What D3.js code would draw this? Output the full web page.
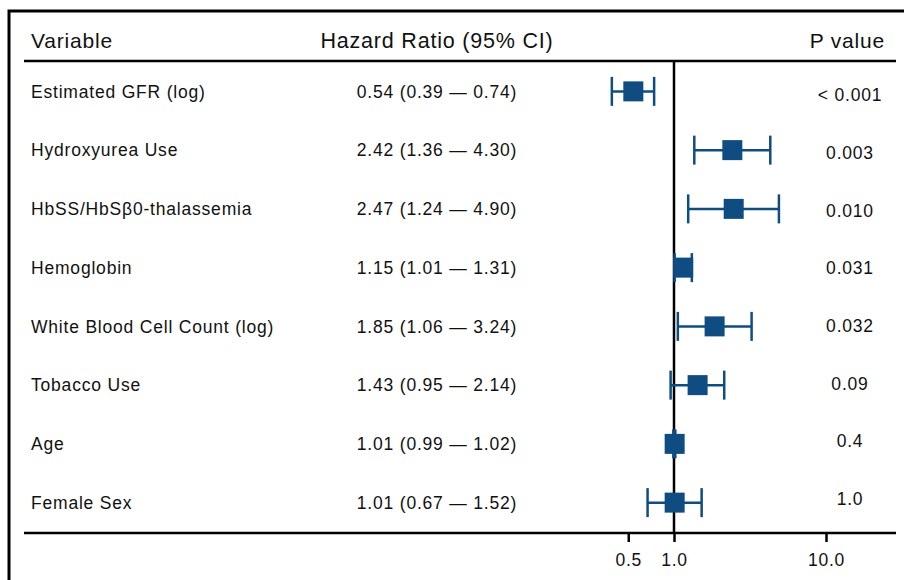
<!DOCTYPE html>
<html>
<head>
<meta charset="utf-8">
<script src="https://cdn.jsdelivr.net/npm/d3@7"></script>
<style>
  body { margin: 0; background: #fff; }
  text { font-family: "Liberation Sans", Arial, sans-serif; fill: #111; letter-spacing: 0.8px; }
</style>
</head>
<body>
<script>
// forest plot data
var variables = ["Estimated GFR (log)", "Hydroxyurea Use", "HbSS/HbS\u03b20-thalassemia",
  "Hemoglobin", "White Blood Cell Count (log)", "Tobacco Use", "Age", "Female Sex"];
var hr = [0.54, 2.42, 2.47, 1.15, 1.85, 1.43, 1.01, 1.01];
var lower = [0.39, 1.36, 1.24, 1.01, 1.06, 0.95, 0.99, 0.67];
var upper = [0.74, 4.30, 4.90, 1.31, 3.24, 2.14, 1.02, 1.52];
var pvals = ["< 0.001", "0.003", "0.010", "0.031", "0.032", "0.09", "0.4", "1.0"];
var tickVals = [0.5, 1, 10];

var W = 904, H = 580;
var blue = "#0f4c81";

var rows = variables.map(function(v, i) {
  return { name: v, hr: hr[i], lo: lower[i], hi: upper[i], p: pvals[i] };
});

var svg = d3.select("body").append("svg")
  .attr("width", W)
  .attr("height", H);

var x = d3.scaleLog().domain([1, 10]).range([674, 826]);
var y = d3.scaleBand().domain(d3.range(rows.length)).range([62, 532]);
// p value column sits on its own, slightly tighter spacing
var py = d3.scalePoint().domain(d3.range(rows.length)).range([95, 499]);

var fmt = d3.format(".2f");

// frame
svg.append("path")
  .attr("d", "M9," + H + "V11H" + W)
  .attr("fill", "none").attr("stroke", "#000").attr("stroke-width", 3);

svg.append("line")
  .attr("x1", 24).attr("x2", 896).attr("y1", 61).attr("y2", 61)
  .attr("stroke", "#000").attr("stroke-width", 2.5);

// headers
svg.append("text").attr("x", 31).attr("y", 48).style("font-size", "21px").text("Variable");
svg.append("text").attr("x", 437).attr("y", 48).attr("text-anchor", "middle")
  .style("font-size", "21.5px").text("Hazard Ratio (95% CI)");
svg.append("text").attr("x", 885).attr("y", 48).attr("text-anchor", "end")
  .style("font-size", "21px").text("P value");

// reference line at 1
svg.append("line")
  .attr("x1", x(1)).attr("x2", x(1)).attr("y1", 61).attr("y2", 533)
  .attr("stroke", "#000").attr("stroke-width", 2.5);

// x axis
var axis = svg.append("g").attr("transform", "translate(0,533)")
  .call(d3.axisBottom(x).tickValues(tickVals).tickFormat(d3.format(".1f"))
    .tickSize(9).tickPadding(12));
axis.select(".domain").remove();
axis.selectAll(".tick line").attr("stroke", "#000").attr("stroke-width", 2.5);
axis.selectAll(".tick text").style("font-size", "17.5px")
  .style("font-family", "'Liberation Sans', Arial, sans-serif").attr("fill", "#111");
svg.append("line")
  .attr("x1", 24).attr("x2", 896).attr("y1", 533).attr("y2", 533)
  .attr("stroke", "#000").attr("stroke-width", 2.5);

var row = svg.append("g").selectAll("g")
  .data(rows)
  .enter().append("g")
  .attr("transform", function(d, i) { return "translate(0," + (y(i) + y.bandwidth() / 2) + ")"; });

row.append("text")
  .attr("x", 31).attr("dy", "0.35em")
  .style("font-size", "17.5px")
  .text(function(d) { return d.name; });

row.append("text")
  .attr("x", 437).attr("dy", "0.35em").attr("text-anchor", "middle")
  .style("font-size", "17.5px")
  .text(function(d) { return fmt(d.hr) + " (" + fmt(d.lo) + " \u2014 " + fmt(d.hi) + ")"; });

svg.append("g").selectAll("text")
  .data(rows)
  .enter().append("text")
  .attr("x", 850).attr("y", function(d, i) { return py(i); })
  .attr("dy", "0.35em").attr("text-anchor", "middle")
  .style("font-size", "17.5px")
  .text(function(d) { return d.p; });

// whiskers
row.append("line")
  .attr("x1", function(d) { return x(d.lo); })
  .attr("x2", function(d) { return x(d.hi); })
  .attr("stroke", blue).attr("stroke-width", 2.5);
row.append("line")
  .attr("x1", function(d) { return x(d.lo); })
  .attr("x2", function(d) { return x(d.lo); })
  .attr("y1", -14.5).attr("y2", 14.5)
  .attr("stroke", blue).attr("stroke-width", 2.5);
row.append("line")
  .attr("x1", function(d) { return x(d.hi); })
  .attr("x2", function(d) { return x(d.hi); })
  .attr("y1", -14.5).attr("y2", 14.5)
  .attr("stroke", blue).attr("stroke-width", 2.5);

// point estimate
row.append("rect")
  .attr("x", function(d) { return x(d.hr) - 10; })
  .attr("y", -10)
  .attr("width", 20).attr("height", 20)
  .attr("fill", blue);
</script>
</body>
</html>
